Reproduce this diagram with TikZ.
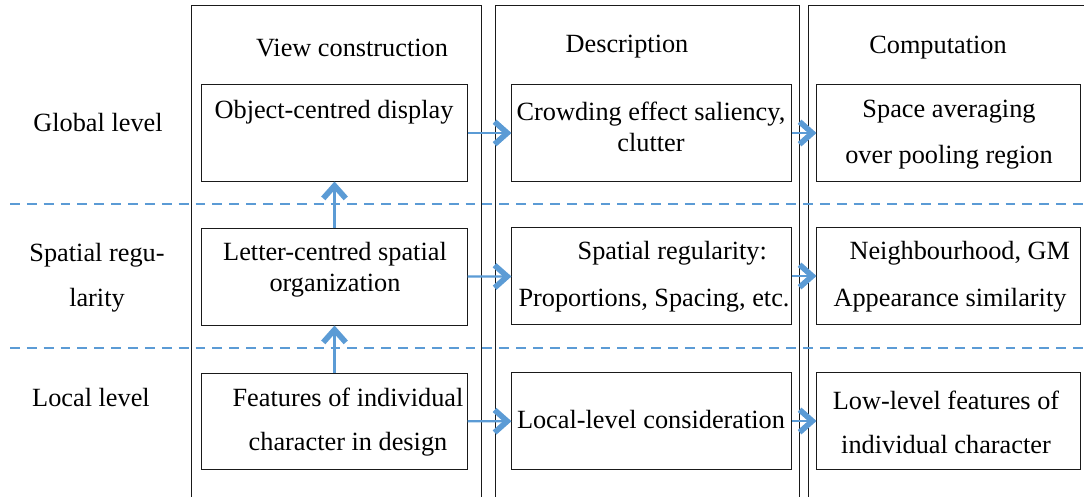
\documentclass[tikz,border=0pt]{standalone}
\usepackage{fontspec}
\setmainfont{Liberation Serif}
\usetikzlibrary{positioning,arrows.meta}
\definecolor{plava}{HTML}{5B9BD5}
\definecolor{crna}{HTML}{1A1A1A}

\begin{document}
\begin{tikzpicture}[x=0.025cm, y=-0.025cm,
  col/.style={rectangle, draw=crna, line width=0.7pt, minimum height=13cm, inner sep=0pt},
  cell/.style={rectangle, draw=crna, line width=0.7pt, minimum height=2.4cm, inner sep=0pt},
  lbl/.style={align=center, inner sep=0pt, text=black, font=\fontsize{18.7}{22}\selectfont},
  arr/.style={draw=plava, line width=1.6pt, -{Straight Barb[length=9pt,width=16pt,line width=4pt]}},
  sep/.style={draw=plava, line width=1pt, dash pattern=on 7pt off 5pt}
]
\useasboundingbox (0,0) rectangle (1084,497);
\clip (0,0) rectangle (1084,497);

% columns
\node[col, minimum width=7.225cm] (vc) at (336.5,266) {};
\node[col, minimum width=7.575cm] (ds) at (647.5,266) {};
\node[col, minimum width=7.275cm] (cp) at (954.5,266) {};

\node[lbl] (hvc) at (352,48) {View construction};
\node[lbl] (hds) at (627,47) {Description};
\node[lbl] (hcp) at (938,48) {Computation};

% row labels
\node[lbl] (rglobal) at (98,123) {Global level};
\node[lbl] (rspatial) at (97,277.5) {Spatial regu-\\[10pt]larity};
\node[lbl] (rlocal) at (91,398) {Local level};

% separators
\coordinate (d1a) at (10,204);
\coordinate (d1b) at (1084,204);
\coordinate (d2a) at (10,348);
\coordinate (d2b) at (1084,348);
\draw[sep] (d1a) -- (d1b);
\draw[sep] (d2a) -- (d2b);

% global row
\node[cell, minimum width=6.625cm, fill=white] (g1) at (334.5,133) {};
\node[lbl] (tg1) at (334,112) {Object-centred display};
\node[cell, minimum width=6.975cm, fill=white] (g2) at (651.5,133) {};
\node[lbl] (tg2) at (651,127) {Crowding effect saliency,\\clutter};
\node[cell, minimum width=6.575cm, fill=white] (g3) at (948.5,133) {};
\node[lbl] (tg3) at (949,135) {Space averaging\\[10.7pt]over pooling region};

% spatial row
\node[cell, minimum width=6.625cm, fill=white] (s1) at (334.5,277) {};
\node[lbl] (ts1) at (335,270) {Letter-centred spatial\\organization};
\node[cell, minimum width=6.975cm, fill=white] (s2) at (651.5,276) {};
\node[lbl] (ts2) at (654,276.5) {\hspace*{26pt}Spatial regularity:\\[11.4pt]Proportions, Spacing, etc.};
\node[cell, minimum width=6.575cm, fill=white] (s3) at (948.5,276) {};
\node[lbl] (ts3) at (950,276.5) {\hspace*{14pt}Neighbourhood, GM\\[11.4pt]Appearance similarity};

% local row
\node[cell, minimum width=6.625cm, fill=white] (l1) at (334.5,421.5) {};
\node[lbl] (tl1) at (348,422) {Features of individual\\[9.3pt]character in design};
\node[cell, minimum width=6.975cm, fill=white] (l2) at (651.5,421) {};
\node[lbl] (tl2) at (651,420) {Local-level consideration};
\node[cell, minimum width=6.575cm, fill=white] (l3) at (948.5,421) {};
\node[lbl] (tl3) at (946,422) {Low-level features of\\[9.3pt]individual character};

% connectors
\draw[arr] (g1) -- (g2);
\draw[arr] (g2) -- (g3);
\draw[arr] (s1) -- (s2);
\draw[arr] (s2) -- (s3);
\draw[arr] (l1) -- (l2);
\draw[arr] (l2) -- (l3);
\draw[arr] (s1) -- (g1);
\draw[arr] (l1) -- (s1);
\end{tikzpicture}
\end{document}
